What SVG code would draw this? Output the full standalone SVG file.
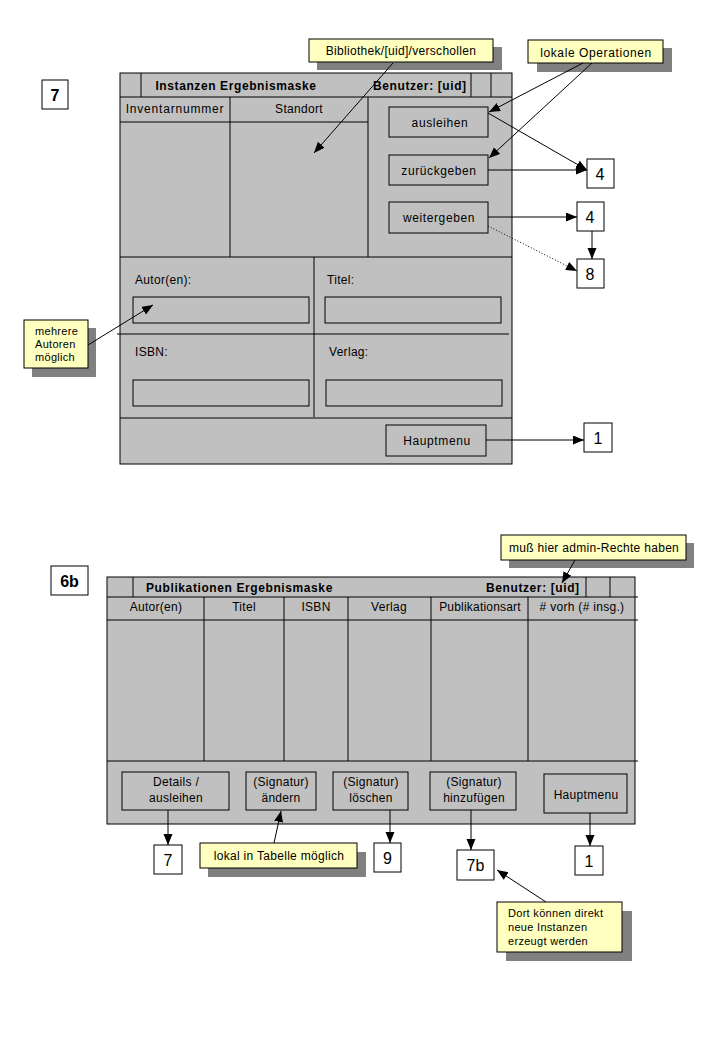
<svg xmlns="http://www.w3.org/2000/svg" width="719" height="1039" viewBox="0 0 719 1039">
<defs>
<marker id="arr" markerUnits="userSpaceOnUse" markerWidth="12" markerHeight="10" refX="11" refY="4.5" orient="auto">
<path d="M0,0 L11,4.5 L0,9 z" fill="#000"/>
</marker>
</defs>
<style>
text{font-family:"Liberation Sans",Arial,sans-serif;font-size:12px;letter-spacing:0.3px;fill:#000}
.b{font-weight:bold;font-size:12px;letter-spacing:0.6px}
.c{text-anchor:middle}
.win{fill:#c0c0c0;stroke:#000;stroke-width:1}
.btn{fill:#c0c0c0;stroke:#000;stroke-width:1}
.ln{stroke:#000;stroke-width:1;fill:none}
.box{fill:#fff;stroke:#000;stroke-width:1}
.note{fill:#ffffc0;stroke:#000;stroke-width:1}
.sh{fill:#808080;stroke:none}
.num{font-size:16px;letter-spacing:0}
.sm{font-size:11px;letter-spacing:0.3px}
.con{stroke:#000;stroke-width:1;fill:none}
.arrow{marker-end:url(#arr)}
.dot{stroke-dasharray:1,2}
</style>
<rect width="719" height="1039" fill="#fff"/>

<g id="label7">
<rect class="box" x="42" y="80" width="26" height="29"/>
<text class="b c num" x="55" y="101">7</text>
</g>

<g id="window7">
<rect class="win" x="120" y="73" width="392" height="391"/>
<line class="ln" x1="120" y1="97" x2="512" y2="97"/>
<line class="ln" x1="141" y1="73" x2="141" y2="97"/>
<line class="ln" x1="471" y1="73" x2="471" y2="97"/>
<line class="ln" x1="491" y1="73" x2="491" y2="97"/>
<text class="b c" x="236" y="90">Instanzen Ergebnismaske</text>
<text class="b" x="373" y="90">Benutzer: [uid]</text>
<line class="ln" x1="120" y1="122" x2="368" y2="122"/>
<line class="ln" x1="230" y1="97" x2="230" y2="257"/>
<line class="ln" x1="368" y1="97" x2="368" y2="257"/>
<text class="c" x="175" y="113" style="letter-spacing:0.8px">Inventarnummer</text>
<text class="c" x="299" y="113">Standort</text>
<line class="ln" x1="120" y1="257" x2="512" y2="257"/>
<line class="ln" x1="314" y1="257" x2="314" y2="417"/>
<line class="ln" x1="117" y1="334" x2="509" y2="334"/>
<line class="ln" x1="120" y1="418" x2="512" y2="418"/>
<text x="135" y="284">Autor(en):</text>
<text x="327" y="284">Titel:</text>
<text x="135" y="356">ISBN:</text>
<text x="329" y="356">Verlag:</text>
<rect class="btn" x="133" y="297" width="176" height="26"/>
<rect class="btn" x="325" y="297" width="176" height="26"/>
<rect class="btn" x="133" y="380" width="176" height="26"/>
<rect class="btn" x="326" y="380" width="176" height="26"/>
</g>
<g id="btn-ausleihen">
<rect class="btn" x="389" y="107" width="99" height="30"/>
<text class="c" x="440" y="127" style="letter-spacing:0.6px">ausleihen</text>
</g>
<g id="btn-zurueckgeben">
<rect class="btn" x="389" y="155" width="99" height="30"/>
<text class="c" x="439" y="175" style="letter-spacing:0.6px">zurückgeben</text>
</g>
<g id="btn-weitergeben">
<rect class="btn" x="389" y="202" width="99" height="31"/>
<text class="c" x="439" y="222" style="letter-spacing:0.6px">weitergeben</text>
</g>
<g id="btn-hauptmenu7">
<rect class="btn" x="386" y="425" width="100" height="31"/>
<text class="c" x="437" y="445" style="letter-spacing:0.6px">Hauptmenu</text>
</g>

<g id="t4a"><rect class="box" x="587" y="159" width="27" height="29"/><text class="c num" x="600" y="180">4</text></g>
<g id="t4b"><rect class="box" x="577" y="202" width="27" height="29"/><text class="c num" x="590" y="223">4</text></g>
<g id="t8"><rect class="box" x="577" y="259" width="27" height="29"/><text class="c num" x="590" y="280">8</text></g>
<g id="t1a"><rect class="box" x="584" y="423" width="28" height="29"/><text class="c num" x="598" y="444">1</text></g>

<g id="note-bibliothek">
<rect class="sh" x="317" y="47" width="185" height="23"/>
<rect class="note" x="309" y="39" width="184" height="23"/>
<text class="c" x="401" y="55">Bibliothek/[uid]/verschollen</text>
</g>
<g id="note-lokale">
<rect class="sh" x="537" y="48" width="135" height="24"/>
<rect class="note" x="528" y="40" width="135" height="23"/>
<text class="c" x="596" y="57" style="letter-spacing:0.6px">lokale Operationen</text>
</g>
<g id="note-autoren">
<rect class="sh" x="32" y="328" width="64" height="49"/>
<rect class="note" x="24" y="320" width="64" height="48"/>
<text class="sm" x="35" y="335">mehrere</text>
<text class="sm" x="35" y="348">Autoren</text>
<text class="sm" x="35" y="361">möglich</text>
</g>

<g id="label6b">
<rect class="box" x="51" y="566" width="37" height="29"/>
<text class="b c num" x="69.5" y="587">6b</text>
</g>

<g id="window6b">
<rect class="win" x="107" y="577" width="528" height="247"/>
<line class="ln" x1="107" y1="597" x2="638" y2="597"/>
<line class="ln" x1="133" y1="577" x2="133" y2="597"/>
<line class="ln" x1="586" y1="577" x2="586" y2="597"/>
<line class="ln" x1="610" y1="577" x2="610" y2="597"/>
<text class="b" x="146" y="592">Publikationen Ergebnismaske</text>
<text class="b" x="486" y="592">Benutzer: [uid]</text>
<line class="ln" x1="107" y1="620" x2="638" y2="620"/>
<line class="ln" x1="204" y1="597" x2="204" y2="761"/>
<line class="ln" x1="284" y1="597" x2="284" y2="761"/>
<line class="ln" x1="348" y1="597" x2="348" y2="761"/>
<line class="ln" x1="431" y1="597" x2="431" y2="761"/>
<line class="ln" x1="528" y1="597" x2="528" y2="761"/>
<line class="ln" x1="107" y1="761" x2="638" y2="761"/>
<text class="c" x="156" y="611">Autor(en)</text>
<text class="c" x="244" y="611">Titel</text>
<text class="c" x="316" y="611">ISBN</text>
<text class="c" x="389" y="611">Verlag</text>
<text class="c" x="480" y="611" style="letter-spacing:0.2px">Publikationsart</text>
<text class="c" x="582" y="611"># vorh (# insg.)</text>
</g>
<g id="btn-details">
<rect class="btn" x="122" y="772" width="107" height="38"/>
<text class="c" x="176" y="786">Details /</text>
<text class="c" x="176" y="802">ausleihen</text>
</g>
<g id="btn-aendern">
<rect class="btn" x="246" y="772" width="70" height="38"/>
<text class="c" x="281" y="786">(Signatur)</text>
<text class="c" x="281" y="802">ändern</text>
</g>
<g id="btn-loeschen">
<rect class="btn" x="333" y="772" width="75" height="38"/>
<text class="c" x="371" y="786">(Signatur)</text>
<text class="c" x="371" y="802">löschen</text>
</g>
<g id="btn-hinzufuegen">
<rect class="btn" x="430" y="772" width="86" height="38"/>
<text class="c" x="474" y="786">(Signatur)</text>
<text class="c" x="474" y="802">hinzufügen</text>
</g>
<g id="btn-hauptmenu6b">
<rect class="btn" x="544" y="774" width="83" height="39"/>
<text class="c" x="586" y="799">Hauptmenu</text>
</g>

<g id="t7"><rect class="box" x="154" y="845" width="28" height="29"/><text class="c num" x="168" y="866">7</text></g>
<g id="t9"><rect class="box" x="374" y="843" width="27" height="29"/><text class="c num" x="387.5" y="864">9</text></g>
<g id="t7b"><rect class="box" x="457" y="850" width="37" height="30"/><text class="c num" x="475.5" y="871">7b</text></g>
<g id="t1b"><rect class="box" x="575" y="846" width="28" height="29"/><text class="c num" x="589" y="867">1</text></g>

<g id="note-admin">
<rect class="sh" x="509" y="543" width="185" height="25"/>
<rect class="note" x="501" y="535" width="185" height="25"/>
<text class="c" x="594" y="552">muß hier admin-Rechte haben</text>
</g>
<g id="note-tabelle">
<rect class="sh" x="208" y="852" width="158" height="25"/>
<rect class="note" x="200" y="843" width="157" height="25"/>
<text class="c" x="279" y="860">lokal in Tabelle möglich</text>
</g>
<g id="note-dort">
<rect class="sh" x="506" y="911" width="126" height="50"/>
<rect class="note" x="497" y="902" width="125" height="50"/>
<text class="sm" x="508" y="917">Dort können direkt</text>
<text class="sm" x="508" y="931">neue Instanzen</text>
<text class="sm" x="508" y="945">erzeugt werden</text>
</g>

<g id="connectors">
<line class="con arrow" x1="393" y1="63" x2="314" y2="153"/>
<line class="con arrow" x1="583" y1="63" x2="489" y2="112"/>
<line class="con arrow" x1="592" y1="63" x2="489" y2="158"/>
<line class="con arrow" x1="488" y1="113" x2="587" y2="170"/>
<line class="con arrow" x1="488" y1="170" x2="587" y2="170"/>
<line class="con arrow" x1="488" y1="217" x2="577" y2="217"/>
<line class="con arrow" x1="592" y1="231" x2="592" y2="259"/>
<line class="con arrow dot" x1="488" y1="226" x2="577" y2="271"/>
<line class="con arrow" x1="486" y1="440" x2="584" y2="440"/>
<line class="con arrow" x1="88" y1="345" x2="153" y2="305"/>
<line class="con arrow" x1="575" y1="560" x2="562" y2="583"/>
<line class="con arrow" x1="168" y1="810" x2="168" y2="845"/>
<line class="con arrow" x1="274" y1="843" x2="281" y2="811"/>
<line class="con arrow" x1="390" y1="810" x2="390" y2="843"/>
<line class="con arrow" x1="471" y1="810" x2="471" y2="850"/>
<line class="con arrow" x1="590" y1="813" x2="590" y2="846"/>
<line class="con arrow" x1="546" y1="902" x2="497" y2="870"/>
</g>
</svg>
